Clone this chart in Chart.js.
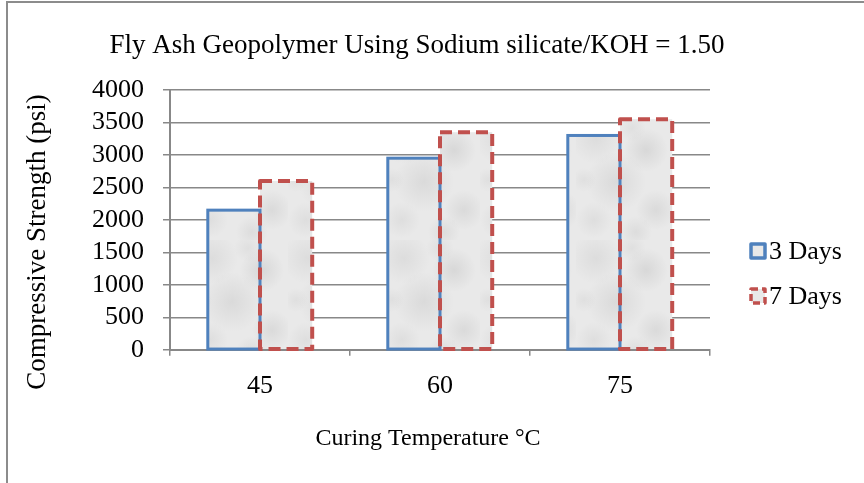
<!DOCTYPE html>
<html>
<head>
<meta charset="utf-8">
<script src="https://cdn.jsdelivr.net/npm/chart.js@4.4.0/dist/chart.umd.min.js"></script>
<style>
  html, body { margin: 0; padding: 0; background: #fff; overflow: hidden; }
  #moldura {
    position: absolute; left: 6px; top: 1px; width: 900px; height: 520px;
    border-left: 2px solid #8c8c8c; border-top: 2px solid #8c8c8c;
  }
  #grafico { position: absolute; left: 0; top: 0; }
</style>
</head>
<body>
<div id="moldura"></div>
<canvas id="grafico" width="864" height="483"></canvas>
<script>
const temperaturas = ["45", "60", "75"];
const resistencia3Dias = [2150, 2950, 3300];
const resistencia7Dias = [2600, 3350, 3550];
const nomesSeries = ["3 Days", "7 Days"];
const tituloGrafico = "Fly Ash Geopolymer Using Sodium silicate/KOH = 1.50";
const tituloEixoX = "Curing Temperature \u00B0C";
const tituloEixoY = "Compressive Strength (psi)";

const fonte = "'Liberation Serif', 'Times New Roman', serif";
const corGrade = "#888888";

// contorno de cada série: azul contínuo e vermelho tracejado
const estilos = [
  { cor: "#4f81bd", largura: 3, traco: [] },
  { cor: "#c0504d", largura: 4, traco: [12, 6] },
];

const canvas = document.getElementById("grafico");
const ctxPrincipal = canvas.getContext("2d");

// textura cinza clara e manchada das barras
function criarTextura() {
  const c = document.createElement("canvas");
  c.width = 96;
  c.height = 120;
  const g = c.getContext("2d");
  g.fillStyle = "#e9e9e9";
  g.fillRect(0, 0, c.width, c.height);
  const manchas = [
    [20, 18, 26, 0.1],
    [70, 30, 22, 0.14],
    [40, 62, 30, 0.12],
    [80, 90, 20, 0.12],
    [18, 100, 18, 0.09],
    [56, 8, 14, 0.08],
    [60, 112, 16, 0.1],
    [8, 60, 12, 0.08],
  ];
  manchas.forEach(([x, y, r, a]) => {
    const rg = g.createRadialGradient(x, y, 0, x, y, r);
    rg.addColorStop(0, `rgba(110,110,110,${a})`);
    rg.addColorStop(1, "rgba(110,110,110,0)");
    g.fillStyle = rg;
    g.fillRect(0, 0, c.width, c.height);
  });
  return ctxPrincipal.createPattern(c, "repeat");
}
const textura = criarTextura();

const contornoBarras = {
  id: "contornoBarras",
  afterDatasetsDraw(chart) {
    const ctx = chart.ctx;
    chart.data.datasets.forEach((_, i) => {
      const meta = chart.getDatasetMeta(i);
      const est = estilos[i];
      ctx.save();
      ctx.strokeStyle = est.cor;
      ctx.lineWidth = est.largura;
      ctx.setLineDash(est.traco);
      ctx.lineJoin = est.traco.length ? "round" : "miter";
      meta.data.forEach((barra) => {
        const { x, y, base, width } = barra.getProps(["x", "y", "base", "width"], true);
        ctx.strokeRect(x - width / 2, y, width, base - y);
      });
      ctx.restore();
    });
  },
};

// título, títulos dos eixos e legenda desenhados à parte
const textosExtras = {
  id: "textosExtras",
  afterDraw(chart) {
    const ctx = chart.ctx;
    ctx.save();
    ctx.fillStyle = "#000";
    ctx.font = `27px ${fonte}`;
    ctx.textAlign = "center";
    ctx.textBaseline = "middle";
    ctx.fillText(tituloGrafico, 417, 46);

    ctx.save();
    ctx.translate(38, 242);
    ctx.rotate(-Math.PI / 2);
    ctx.fillText(tituloEixoY, 0, 0);
    ctx.restore();

    ctx.font = `24px ${fonte}`;
    ctx.fillText(tituloEixoX, 428, 439);

    ctx.font = `26px ${fonte}`;
    ctx.textAlign = "left";
    chart.data.datasets.forEach((ds, i) => {
      const est = estilos[i];
      const yItem = 251 + i * 45;
      ctx.fillStyle = textura;
      ctx.fillRect(751, yItem - 7, 14, 14);
      ctx.strokeStyle = est.cor;
      ctx.lineWidth = 3.5;
      ctx.setLineDash(est.traco.length ? [7, 4] : []);
      ctx.lineJoin = "round";
      ctx.strokeRect(751, yItem - 7, 14, 14);
      ctx.setLineDash([]);
      ctx.fillStyle = "#000";
      ctx.fillText(ds.label, 769, yItem + 1);
    });
    ctx.restore();
  },
};

new Chart(canvas, {
  type: "bar",
  data: {
    labels: temperaturas,
    datasets: [
      {
        label: nomesSeries[0],
        data: resistencia3Dias,
        backgroundColor: textura,
        borderWidth: 0,
      },
      {
        label: nomesSeries[1],
        data: resistencia7Dias,
        backgroundColor: textura,
        borderWidth: 0,
      },
    ],
  },
  options: {
    responsive: false,
    animation: false,
    categoryPercentage: 0.58,
    barPercentage: 1.0,
    layout: { padding: { left: 73, right: 154, top: 90, bottom: 66 } },
    plugins: {
      legend: { display: false },
      title: { display: false },
      tooltip: { enabled: false },
    },
    scales: {
      x: {
        grid: {
          drawOnChartArea: false,
          color: corGrade,
          lineWidth: 1.5,
          tickLength: 6,
        },
        border: { color: corGrade, width: 2 },
        ticks: { color: "#000", font: { family: fonte, size: 26 }, padding: 15 },
      },
      y: {
        min: 0,
        max: 4000,
        ticks: {
          stepSize: 500,
          autoSkip: false,
          color: "#000",
          font: { family: fonte, size: 26, lineHeight: 1 },
          padding: 19,
          callback: (v) => String(v),
        },
        grid: { color: corGrade, lineWidth: 1.5, tickLength: 7 },
        border: { color: corGrade, width: 2 },
      },
    },
  },
  plugins: [contornoBarras, textosExtras],
});
</script>
</body>
</html>
